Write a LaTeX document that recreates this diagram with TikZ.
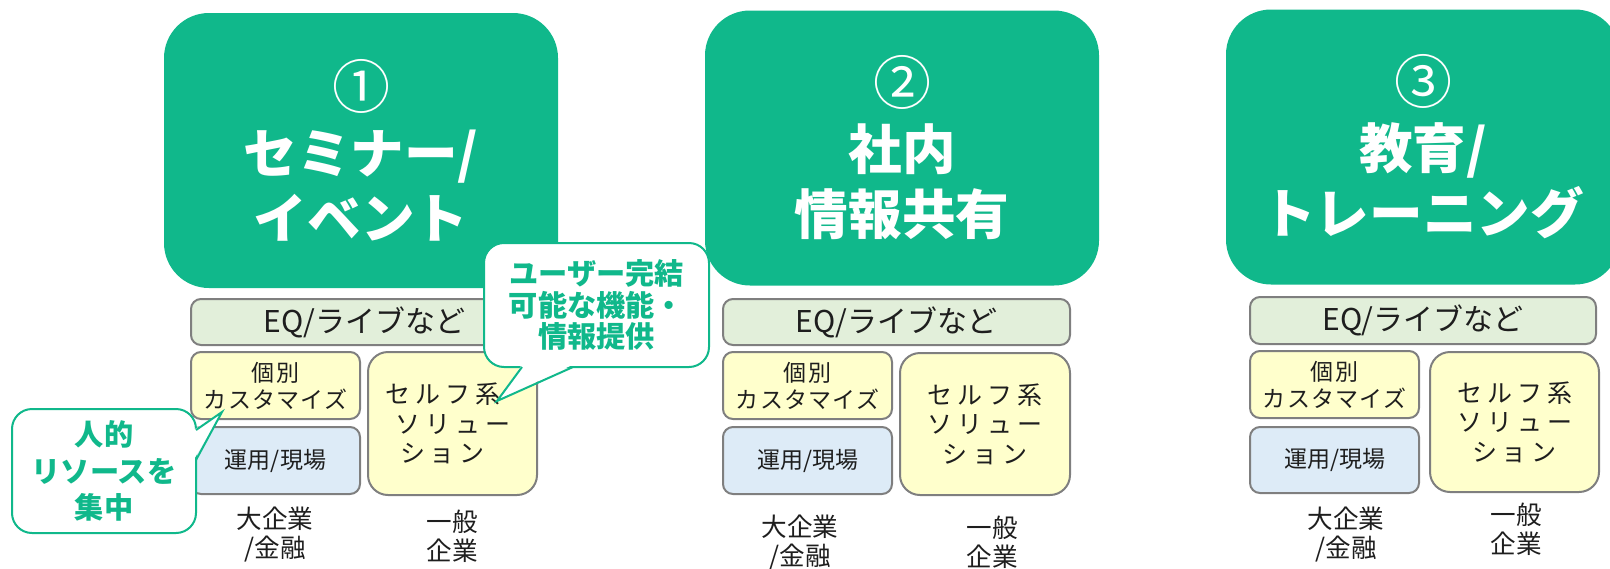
\documentclass[tikz,border=0pt]{standalone}
\usepackage{fontspec}
\setmainfont{Noto Sans CJK JP}
\definecolor{mygreen}{HTML}{10B88B}
\definecolor{boxgray}{HTML}{7F7F7F}
\definecolor{eqfill}{HTML}{E2EFDA}
\definecolor{yelfill}{HTML}{FFFFCC}
\definecolor{blufill}{HTML}{DDEBF7}
\definecolor{txt}{HTML}{1E1E1E}
\newcommand{\circnum}[1]{{\fontsize{29}{32.5}\selectfont\mdseries #1}}
\newcommand{\leftpush}{\hspace*{10pt}}
\tikzset{
  bigbox/.style={fill=mygreen, rounded corners=22.5pt, text=white, inner sep=0pt,
    align=center, minimum width=197pt, minimum height=137.5pt,
    font=\bfseries\fontsize{26.8}{32.5}\selectfont},
  graybox/.style={draw=boxgray, line width=1pt, rounded corners=5pt, inner sep=0pt,
    align=center, text=txt},
  eqbox/.style={graybox, fill=eqfill, minimum width=173.5pt, minimum height=23pt,
    font=\fontsize{15}{18}\selectfont},
  kbox/.style={graybox, fill=yelfill, minimum width=84.5pt, minimum height=33.5pt,
    font=\fontsize{11.5}{13.5}\selectfont\addfontfeature{LetterSpace=5}},
  ubox/.style={graybox, fill=blufill, minimum width=84.5pt, minimum height=33.5pt,
    font=\fontsize{11.5}{13.5}\selectfont},
  sbox/.style={graybox, fill=yelfill, rounded corners=10pt, minimum width=84.5pt,
    minimum height=71pt, font=\fontsize{12.5}{14.8}\selectfont\addfontfeature{LetterSpace=20}},
  lbl/.style={align=center, inner sep=0pt, text=txt, font=\fontsize{12.8}{14.5}\selectfont},
  callbox/.style={draw=mygreen, line width=1pt, fill=white, rounded corners=10pt,
    inner sep=0pt, align=center, text=mygreen,
    font=\bfseries\fontsize{14.6}{18.25}\selectfont},
  ptrfill/.style={fill=white},
  ptrline/.style={draw=mygreen, line width=1pt, line join=miter}
}
\begin{document}
\begin{tikzpicture}[x=0.5pt,y=-0.5pt]
\useasboundingbox (0,0) rectangle (1610,568);
\clip (0,0) rectangle (1610,568);

% big green boxes
\node[bigbox] (g1) at (361,150.5) {\circnum{①}\\セミナー/\\イベント};
\node[bigbox] (g2) at (902,148) {\circnum{②}\\社内\\情報共有};
\node[bigbox] (g3) at (1423,147) {\circnum{③}\\教育/\\トレーニング};

% group 1
\node[eqbox] (eq1) at (364.5,322) {EQ/ライブなど};
\node[kbox] (k1) at (275.5,385.5) {個別\\カスタマイズ};
\node[ubox] (u1) at (275.5,460.5) {運用/現場};
\node[sbox, minimum height=71.5pt] (s1) at (452.5,423.5) {セルフ系\leftpush\\ソリュー\leftpush\\ション\leftpush};
\node[lbl] (la1) at (275,534) {大企業\\/金融};
\node[lbl] (lb1) at (452,536) {一般\\企業};

% group 2
\node[eqbox] (eq2) at (896.5,322) {EQ/ライブなど};
\node[kbox] (k2) at (807.5,385.5) {個別\\カスタマイズ};
\node[ubox] (u2) at (807.5,460.5) {運用/現場};
\node[sbox, minimum width=85pt] (s2) at (985,424) {セルフ系\\ソリュー\\ション};
\node[lbl] (la2) at (800,542) {大企業\\/金融};
\node[lbl] (lb2) at (992,542.5) {一般\\企業};

% group 3
\node[eqbox, minimum width=173pt, minimum height=23.5pt] (eq3) at (1423,320.5) {EQ/ライブなど};
\node[kbox] (k3) at (1334.5,384.5) {個別\\カスタマイズ};
\node[ubox, minimum height=33pt] (u3) at (1334.5,460) {運用/現場};
\node[sbox, minimum height=70pt] (s3) at (1514.5,422) {セルフ系\\ソリュー\\ション};
\node[lbl] (la3) at (1346,534.5) {大企業\\/金融};
\node[lbl] (lb3) at (1516,529) {一般\\企業};

% callout A
\node[callbox, minimum width=92pt, minimum height=62pt] (ca) at (104,471) {人的\\リソースを\\集中};
\coordinate (ta) at (222,412);
\coordinate (a1) at (196,430);
\coordinate (a2) at (196,460);
\fill[ptrfill] ([xshift=-1.2pt]a1) -- (ta) -- ([xshift=-1.2pt]a2) -- cycle;
\draw[ptrline] (a1) -- (ta) -- (a2);

% callout B
\node[callbox, minimum width=112.5pt, minimum height=62pt,
  font=\bfseries\fontsize{14.6}{15.75}\selectfont] (cb) at (596.5,305) {ユーザー完結\\可能な機能・\\情報提供};
\coordinate (tb) at (497,401);
\coordinate (b1) at (522,367);
\coordinate (b2) at (573,367);
\fill[ptrfill] ([yshift=1.2pt]b1) -- (tb) -- ([yshift=1.2pt]b2) -- cycle;
\draw[ptrline] (b1) -- (tb) -- (b2);
\end{tikzpicture}
\end{document}
